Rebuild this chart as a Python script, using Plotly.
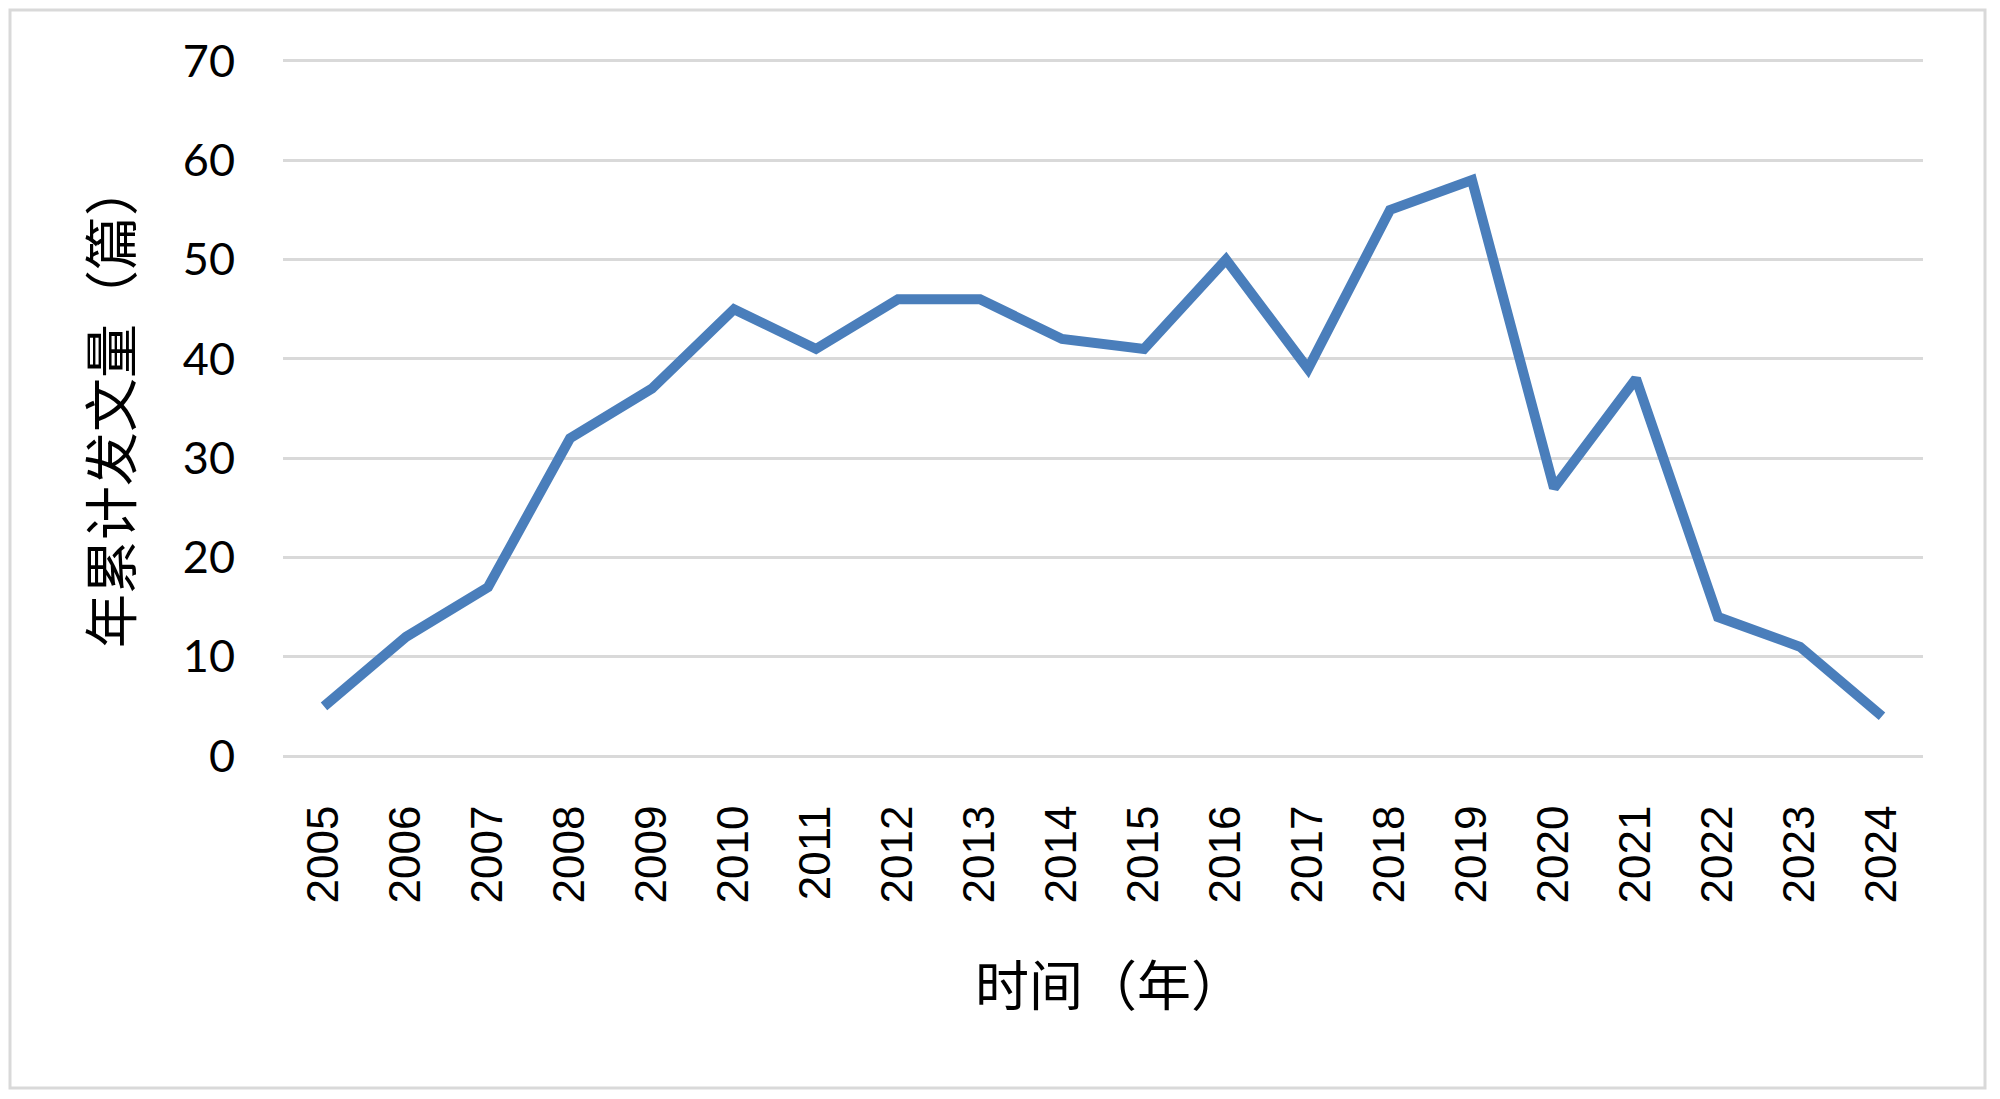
import plotly.graph_objects as go

years = ["2005", "2006", "2007", "2008", "2009", "2010", "2011", "2012", "2013", "2014",
         "2015", "2016", "2017", "2018", "2019", "2020", "2021", "2022", "2023", "2024"]
counts = [5, 12, 17, 32, 37, 45, 41, 46, 46, 42, 41, 50, 39, 55, 58, 27, 38, 14, 11, 4]
y_ticks = [0, 10, 20, 30, 40, 50, 60, 70]
x_title = "时间（年）"
y_title = "年累计发文量（篇）"

# page body has an 8px margin, so work in figure coordinates = page - 8
OFF = 8
W, H = 2000 - OFF, 1099 - OFF
L, R, T, B = 283 - OFF, 77, 58 - OFF, 343
pw, ph = W - L - R, H - T - B

def px_x(x):
    return (x - OFF - L) / pw

def px_y(y):
    return (H - B - (y - OFF)) / ph

fig = go.Figure()
fig.add_trace(go.Scatter(
    x=years, y=counts, mode="lines",
    line=dict(color="#4a7ebb", width=10, shape="linear"),
    hoverinfo="x+y",
))

fig.update_layout(
    width=W, height=H, autosize=False,
    margin=dict(l=L, r=R, t=T, b=B, pad=0),
    paper_bgcolor="white", plot_bgcolor="white",
    showlegend=False,
    xaxis=dict(
        type="category", range=[-0.5, len(years) - 0.5],
        tickangle=-90, ticks="outside", ticklen=31, tickcolor="rgba(0,0,0,0)",
        tickfont=dict(family="Liberation Sans, Arial", size=44, color="#000000"),
        showgrid=False, zeroline=False, showline=False,
    ),
    yaxis=dict(
        range=[0, 70.3], tickvals=y_ticks, ticktext=[str(v) for v in y_ticks],
        ticks="outside", ticklen=38, tickcolor="rgba(0,0,0,0)",
        tickfont=dict(family="Lato, Open Sans", size=45, color="#000000"),
        showgrid=True, gridcolor="#d9d9d9", gridwidth=3,
        zeroline=True, zerolinecolor="#d9d9d9", zerolinewidth=3,
        showline=False,
    ),
    annotations=[
        dict(text=x_title, xref="paper", yref="paper",
             x=px_x(1110), y=px_y(982), xanchor="center", yanchor="middle",
             showarrow=False,
             font=dict(family="Noto Sans CJK SC", size=54, color="#000000")),
        dict(text=y_title, xref="paper", yref="paper",
             x=px_x(108), y=px_y(405), xanchor="center", yanchor="middle",
             textangle=-90, showarrow=False,
             font=dict(family="Noto Sans CJK SC", size=54, color="#000000")),
    ],
    shapes=[
        dict(type="rect", xref="paper", yref="paper",
             x0=px_x(10), x1=px_x(1985), y0=px_y(1088), y1=px_y(10),
             line=dict(color="#d9d9d9", width=3), fillcolor="rgba(0,0,0,0)", layer="below"),
    ],
)

fig.write_html("out.html")
